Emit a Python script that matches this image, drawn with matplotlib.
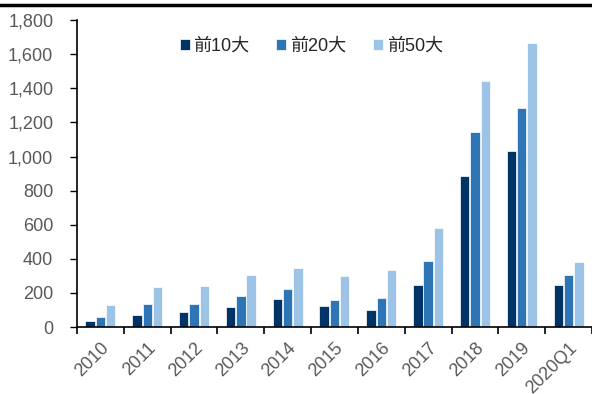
import numpy as np
import matplotlib.pyplot as plt
from matplotlib.lines import Line2D

plt.rcParams['font.family'] = ['Liberation Sans', 'Noto Sans CJK SC', 'DejaVu Sans']

# 数据
categories = ['2010', '2011', '2012', '2013', '2014', '2015', '2016', '2017', '2018', '2019', '2020Q1']
top10 = [37, 70, 88, 117, 162, 121, 100, 244, 883, 1032, 246]
top20 = [57, 135, 137, 180, 225, 158, 170, 387, 1141, 1284, 305]
top50 = [127, 233, 238, 303, 348, 299, 334, 578, 1442, 1663, 383]
series_names = ['前10大', '前20大', '前50大']
colors = ['#003366', '#2e75b6', '#9dc3e6']


def main():
    fig = plt.figure(figsize=(5.92, 3.94), dpi=100)
    ax = fig.add_axes([0.130, 0.170, 0.870, 0.779])

    x = np.arange(len(categories))
    width = 0.20
    pitch = 0.22
    for i, (vals, name, c) in enumerate(zip([top10, top20, top50], series_names, colors)):
        ax.bar(x + (i - 1) * pitch, vals, width, color=c, label=name,
               edgecolor='white', linewidth=0.5)

    ax.set_xlim(-0.5, len(categories) - 0.5)
    ax.set_ylim(0, 1800)
    ax.set_yticks(range(0, 1801, 200))
    ax.set_yticklabels([f'{v:,}' for v in range(0, 1801, 200)])

    # x ticks at group boundaries, labels centered
    ax.set_xticks(np.arange(len(categories) + 1) - 0.5)
    ax.set_xticklabels([])
    ax.set_xticks(x, minor=True)
    ax.set_xticklabels(categories, minor=True, rotation=45, ha='right',
                       rotation_mode='anchor', color='#595959', fontsize=13)
    ax.tick_params(axis='x', which='minor', length=0, pad=9)
    ax.tick_params(axis='x', which='major', length=5, width=1.2, direction='out')
    ax.tick_params(axis='y', length=5, width=1, direction='out', pad=12,
                   labelsize=13, labelcolor='#595959')

    for s in ['top', 'right']:
        ax.spines[s].set_visible(False)
    ax.spines['left'].set_linewidth(1.2)
    ax.spines['bottom'].set_linewidth(1.2)

    ax.legend(loc='upper center', bbox_to_anchor=(0.455, 0.995), ncol=3, frameon=False,
              fontsize=13, handlelength=0.55, handleheight=0.55, handletextpad=0.2,
              columnspacing=1.5, labelcolor='#262626')

    # top rule
    fig.add_artist(Line2D([0, 1], [0.987, 0.987], color='black', linewidth=2.5,
                          transform=fig.transFigure))

    fig.savefig('out.png', dpi=100)


if __name__ == "__main__":
    main()
